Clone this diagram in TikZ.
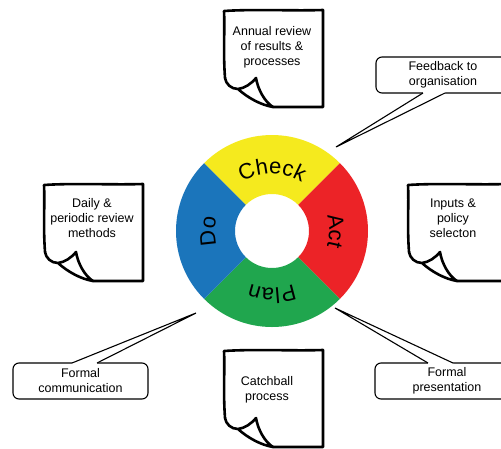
\documentclass[tikz,border=0pt]{standalone}
\usepackage{fontspec}
\setmainfont{Liberation Sans}
\usetikzlibrary{decorations.text}

\definecolor{pdcaYellow}{HTML}{F5EA1E}
\definecolor{pdcaRed}{HTML}{EC2327}
\definecolor{pdcaGreen}{HTML}{20A64E}
\definecolor{pdcaBlue}{HTML}{1B75BB}
\newcommand{\ringfont}{\fontsize{22}{22}\selectfont}

\tikzset{
  notepen/.style={line width=2.6pt, line join=round, line cap=round},
  notetext/.style={align=center, inner sep=0pt, font=\fontsize{12.5}{15}\selectfont},
  callout/.style={%
    draw,
    rounded corners=6pt,
    line width=1.1pt,
    minimum height=36pt,
    inner sep=0pt,
    outer sep=0pt,
    align=center,
    font=\fontsize{12.5}{15}\selectfont
  },
  pointer/.style={line width=1.1pt},
  ringtext/.style={decorate, decoration={text along path, text align=center, text={|\ringfont|#1}}},
  sticky/.pic={
    \draw[notepen] (2,68) .. controls (0,40) and (2,20) .. (1,1)
      .. controls (30,-1) and (70,1) .. (100,0) -- (100,97) -- (50,97);
    % curled corner
    \draw[notepen] (2,68) .. controls (3,74) and (8,79) .. (15,79)
      .. controls (22,78) and (28,74) .. (33,68)
      .. controls (35,80) and (42,92) .. (50,97)
      .. controls (38,95) and (25,88) .. (15,79);
  }
}

\begin{document}
\begin{tikzpicture}[x=1pt, y=-1pt]
  \useasboundingbox (0,0) rectangle (501,448);
  \clip (0,0) rectangle (501,448);

  % PDCA ring
  \begin{scope}[shift={(272,231)}, y=1pt]
    \foreach \s/\c in {45/pdcaYellow, -45/pdcaRed, 225/pdcaGreen, 135/pdcaBlue}
      \fill[\c] (\s:96) arc[start angle=\s, delta angle=90, radius=96]
        -- (\s+90:37) arc[start angle=\s+90, delta angle=-90, radius=37] -- cycle;
    \path[ringtext=Check] (135:57) arc[start angle=135, end angle=45, radius=57];
    \path[ringtext=Act] (45:57) arc[start angle=45, end angle=-45, radius=57];
    \path[ringtext=Plan] (-45:57) arc[start angle=-45, end angle=-135, radius=57];
    \path[ringtext=Do] (225:57) arc[start angle=225, end angle=135, radius=57];
  \end{scope}

  % sticky notes
  \pic at (223,10) {sticky};
  \pic at (43,184) {sticky};
  \pic at (407,184) {sticky};
  \pic at (223,350) {sticky};
  \node[notetext] (annual) at (272,47) {Annual review\\of results \&\\processes};
  \node[notetext] (daily) at (92,218) {Daily \&\\periodic review\\methods};
  \node[notetext] (inputs) at (453,218) {Inputs \&\\policy\\selecton};
  \node[notetext] (catchball) at (267,389.5) {Catchball\\process};

  % callouts
  \node[callout, minimum width=134pt] (feedback) at (443,75) {Feedback to\\organisation};
  \node[callout, minimum width=135pt] (communication) at (80.5,381) {Formal\\communication};
  \node[callout, minimum width=144pt] (presentation) at (447,381) {Formal\\presentation};
  \coordinate (feedbacktip) at (336,147);
  \coordinate (communicationtip) at (196,313);
  \coordinate (presentationtip) at (335,308);

  \fill[white] ([xshift=-20pt,yshift=2pt]feedback.south) -- ([xshift=-20pt]feedback.south)
    -- (feedbacktip) -- ([xshift=2pt]feedback.south) -- ([xshift=2pt,yshift=2pt]feedback.south) -- cycle;
  \draw[pointer] ([xshift=-20pt]feedback.south) -- (feedbacktip) -- ([xshift=2pt]feedback.south);

  \fill[white] ([xshift=-8.5pt,yshift=-2pt]communication.north) -- ([xshift=-8.5pt]communication.north)
    -- (communicationtip) -- ([xshift=16.5pt]communication.north) -- ([xshift=16.5pt,yshift=-2pt]communication.north) -- cycle;
  \draw[pointer] ([xshift=-8.5pt]communication.north) -- (communicationtip) -- ([xshift=16.5pt]communication.north);

  \fill[white] ([xshift=-19pt,yshift=-2pt]presentation.north) -- ([xshift=-19pt]presentation.north)
    -- (presentationtip) -- ([xshift=6pt]presentation.north) -- ([xshift=6pt,yshift=-2pt]presentation.north) -- cycle;
  \draw[pointer] ([xshift=-19pt]presentation.north) -- (presentationtip) -- ([xshift=6pt]presentation.north);
\end{tikzpicture}
\end{document}
